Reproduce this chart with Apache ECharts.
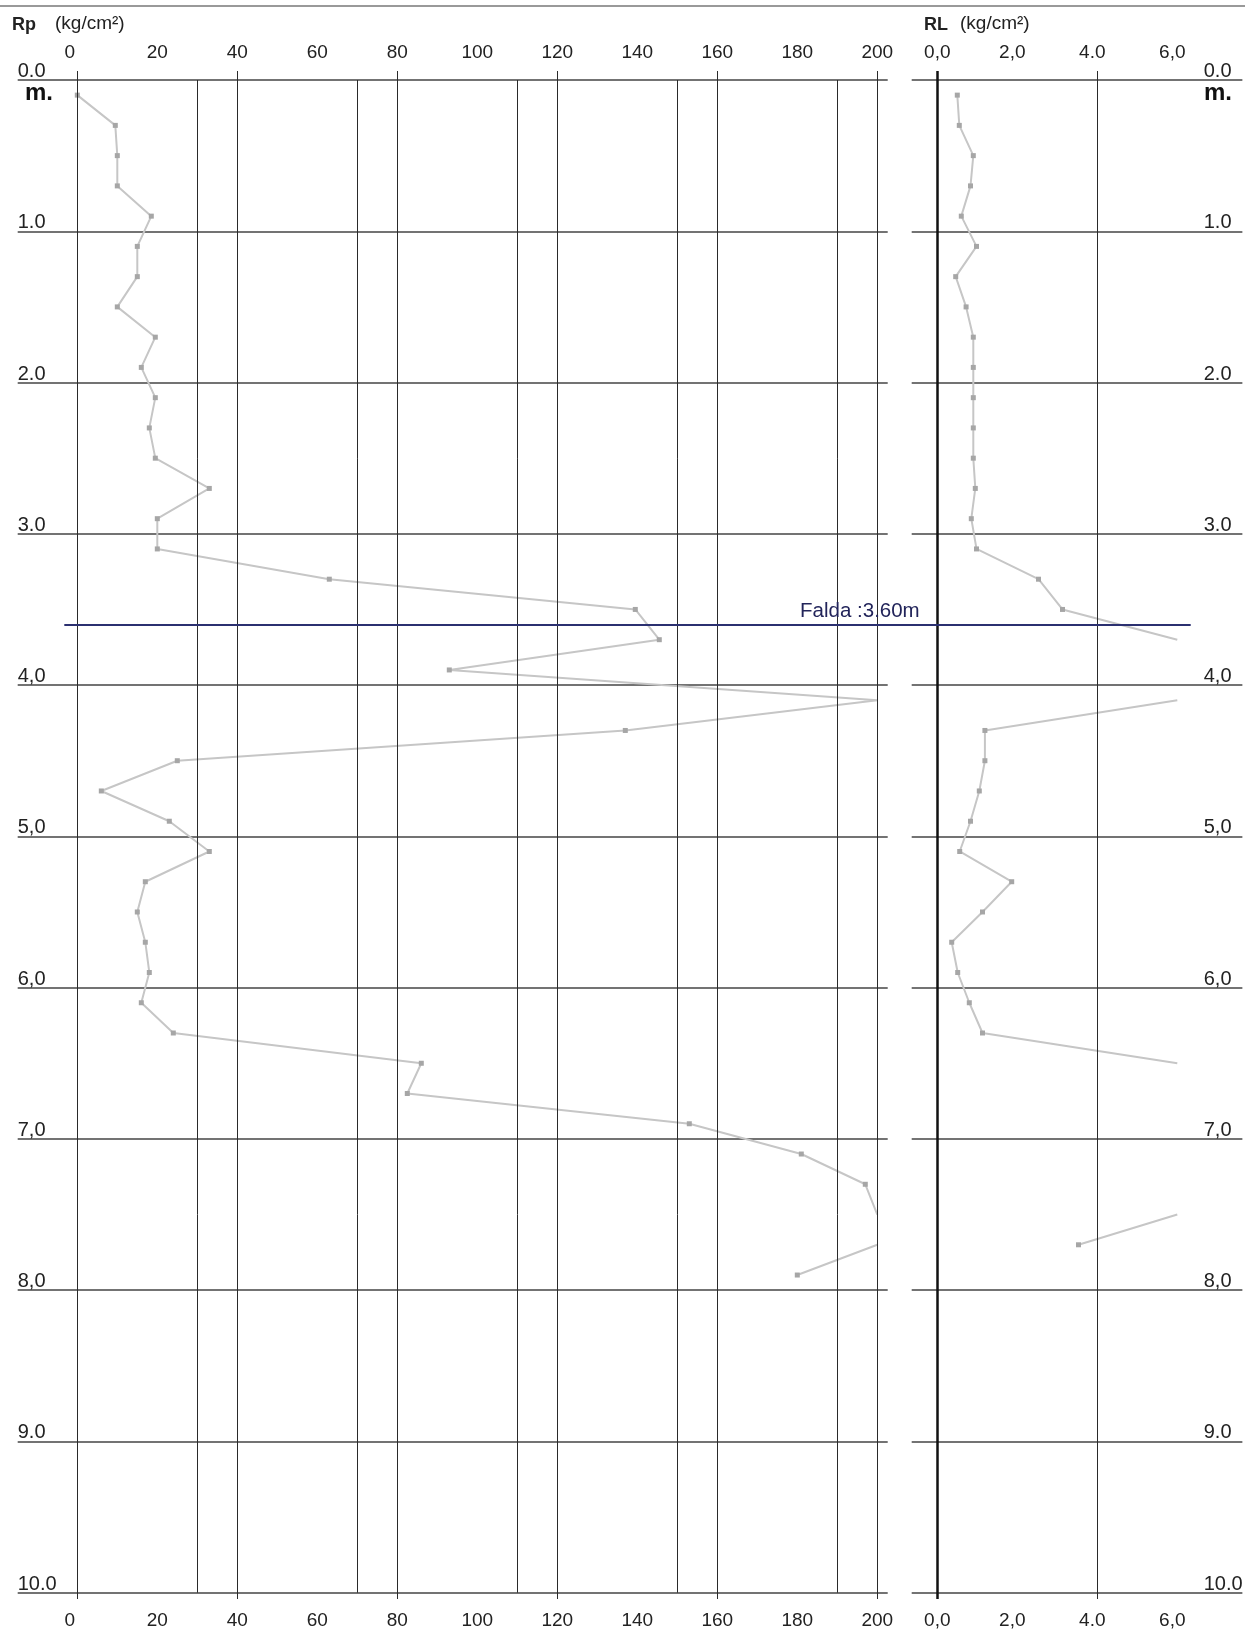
<!DOCTYPE html>
<html>
<head>
<meta charset="utf-8">
<script src="https://cdn.jsdelivr.net/npm/echarts@6/dist/echarts.min.js"></script>
<style>html,body{margin:0;padding:0;background:#fff}#c{width:1245px;height:1632px}</style>
</head>
<body>
<div id="c"></div>
<script>
// ---- data ----
const depths = [0.1,0.3,0.5,0.7,0.9,1.1,1.3,1.5,1.7,1.9,2.1,2.3,2.5,2.7,2.9,3.1,3.3,3.5,3.7,3.9,
                4.1,4.3,4.5,4.7,4.9,5.1,5.3,5.5,5.7,5.9,6.1,6.3,6.5,6.7,6.9,7.1,7.3,7.5,7.7,7.9];
const rpValues = [0,9.5,10,10,18.5,15,15,10,19.5,16,19.5,18,19.5,33,20,20,63,139.5,145.5,93,
                  200,137,25,6,23,33,17,15,17,18,16,24,86,82.5,153,181,197,200,200,180];
const rlValues = [0.5,0.55,0.9,0.83,0.6,0.98,0.46,0.72,0.9,0.9,0.9,0.9,0.9,0.95,0.85,0.98,2.53,3.13,6,6,
                  6,1.19,1.19,1.05,0.83,0.56,1.86,1.13,0.36,0.51,0.8,1.13,6,6,6,6,6,6,3.53,null];
const depthLabels = ['0.0','1.0','2.0','3.0','4,0','5,0','6,0','7,0','8,0','9.0','10.0'];
const rlTickLabels = ['0,0','2,0','4.0','6,0'];
const rpMajorLines = [0,40,80,120,160,200];
const rpMinorLines = [30,70,110,150,190];
const rlLines = [0,4];
const faldaDepth = 3.6;
const faldaText = 'Falda :3.60m';
const RP_MAX = 200, RL_MAX = 6;

// ---- helpers ----
const FONT = '"Liberation Sans", Arial, sans-serif';
function buildLine(values, max) {
  const out = [];
  for (let i = 0; i < depths.length; i++) {
    const v = values[i];
    if (v == null) { out.push(['-', '-']); continue; }
    const prev = i > 0 ? values[i - 1] : null;
    if (v >= max && prev != null && prev >= max) out.push(['-', '-']);
    if (v >= max) out.push({ value: [max, depths[i]], symbol: 'none' });
    else out.push([v, depths[i]]);
  }
  return out;
}
const depthAxis = (gi, extra) => Object.assign({ gridIndex: gi, type: 'value', inverse: true, min: 0, max: 10, interval: 1 }, extra);
const depthLabelCfg = (margin) => ({
  inside: true, margin: margin, fontSize: 20, color: '#222', fontFamily: FONT,
  align: 'left', verticalAlign: 'bottom', lineHeight: 17,
  formatter: v => depthLabels[Math.round(v)]
});
const hidden = (gi, min, max) => ({ gridIndex: gi, type: 'value', min: min, max: max, show: false });
const tickLabel = (margin, fmt, pad) => ({
  margin: margin, fontSize: 19, color: '#222', fontFamily: FONT, formatter: fmt,
  rich: { a: { padding: [0, pad, 0, 0], fontSize: 19, color: '#222', fontFamily: FONT } }
});
const rpFmt = v => v === 0 ? '{a|0}' : String(v);
const rlFmt = v => { const s = rlTickLabels[Math.round(v / 2)]; return v === 0 ? s : '{a|' + s + '}'; };
const vLines = (vals, color, width) => ({
  silent: true, animation: false, symbol: ['none', 'none'], label: { show: false },
  lineStyle: { color: color, width: width, type: 'solid' },
  data: vals.map(v => ({ xAxis: v }))
});

const TOP = 80, H = 1512.7, TTOP = 71, TH = 1528;

const option = {
  animation: false,
  backgroundColor: '#fff',
  grid: [
    { left: 17.7, top: TOP, width: 870, height: H },      // 0 left horizontal lines
    { left: 911.7, top: TOP, width: 331.3, height: H },   // 1 right horizontal lines
    { left: 77.3, top: TTOP, width: 800, height: TH },    // 2 Rp major (tall)
    { left: 77.3, top: TOP, width: 800, height: H },      // 3 Rp data
    { left: 937.3, top: TTOP, width: 240, height: TH },   // 4 RL lines (tall)
    { left: 937.3, top: TOP, width: 240, height: H },     // 5 RL data
    { left: 64.3, top: TOP, width: 1126.4, height: H }    // 6 falda
  ],
  xAxis: [
    hidden(0, 0, 1),                 // 0
    hidden(1, 0, 1),                 // 1
    hidden(2, 0, RP_MAX),            // 2
    { gridIndex: 3, type: 'value', position: 'top', min: 0, max: RP_MAX, interval: 20,   // 3
      axisLine: { show: false }, axisTick: { show: false }, splitLine: { show: false },
      axisLabel: tickLabel(18, rpFmt, 15) },
    { gridIndex: 3, type: 'value', position: 'bottom', min: 0, max: RP_MAX, interval: 20, // 4
      axisLine: { show: false }, axisTick: { show: false }, splitLine: { show: false },
      axisLabel: tickLabel(19, rpFmt, 15) },
    hidden(4, 0, RL_MAX),            // 5
    { gridIndex: 5, type: 'value', position: 'top', min: 0, max: RL_MAX, interval: 2,    // 6
      axisLine: { show: false }, axisTick: { show: false }, splitLine: { show: false },
      axisLabel: tickLabel(18, rlFmt, 10) },
    { gridIndex: 5, type: 'value', position: 'bottom', min: 0, max: RL_MAX, interval: 2, // 7
      axisLine: { show: false }, axisTick: { show: false }, splitLine: { show: false },
      axisLabel: tickLabel(19, rlFmt, 10) },
    hidden(6, 0, 1)                  // 8
  ],
  yAxis: [
    depthAxis(0, { axisLine: { show: false }, axisTick: { show: false },
      splitLine: { show: true, lineStyle: { color: '#444', width: 1.5 } }, axisLabel: depthLabelCfg(0) }),
    depthAxis(1, { axisLine: { show: false }, axisTick: { show: false },
      splitLine: { show: true, lineStyle: { color: '#444', width: 1.5 } }, axisLabel: depthLabelCfg(292) }),
    depthAxis(2, { show: false }),
    depthAxis(3, { show: false }),
    depthAxis(4, { show: false }),
    depthAxis(5, { show: false }),
    depthAxis(6, { show: false })
  ],
  series: [
    { type: 'line', xAxisIndex: 2, yAxisIndex: 2, data: [], showSymbol: false, z: 2,
      markLine: vLines(rpMajorLines, '#2a2a2a', 1) },
    { type: 'line', xAxisIndex: 5, yAxisIndex: 4, data: [], showSymbol: false, z: 2,
      markLine: { silent: true, animation: false, symbol: ['none', 'none'], label: { show: false },
        lineStyle: { color: '#2a2a2a', width: 1, type: 'solid' },
        data: rlLines.map(v => v === 0 ? { xAxis: v, lineStyle: { width: 2.5, color: '#111' } } : { xAxis: v }) } },
    { name: 'Rp', type: 'line', xAxisIndex: 3, yAxisIndex: 3, z: 3,
      data: buildLine(rpValues, RP_MAX), connectNulls: false,
      symbol: 'rect', symbolSize: 5, itemStyle: { color: '#a6a6a6' },
      lineStyle: { color: '#c6c6c6', width: 2 },
      markLine: vLines(rpMinorLines, '#2a2a2a', 1) },
    { name: 'RL', type: 'line', xAxisIndex: 6, yAxisIndex: 5, z: 3,
      data: buildLine(rlValues, RL_MAX), connectNulls: false,
      symbol: 'rect', symbolSize: 5, itemStyle: { color: '#a6a6a6' },
      lineStyle: { color: '#c6c6c6', width: 2 } },
    { type: 'line', xAxisIndex: 8, yAxisIndex: 6, data: [], showSymbol: false, z: 5,
      markLine: { silent: true, animation: false, symbol: ['none', 'none'],
        lineStyle: { color: '#2b3070', width: 2, type: 'solid' },
        label: { show: true, position: 'insideEndTop', distance: [271, 3], formatter: faldaText,
          color: '#22245a', fontSize: 20.5, fontFamily: FONT },
        data: [{ yAxis: faldaDepth }] } }
  ],
  graphic: [
    { type: 'line', shape: { x1: 0, y1: 6, x2: 1245, y2: 6 }, style: { stroke: '#777', lineWidth: 1.5 } },
    { type: 'text', x: 12, y: 25, style: { text: 'Rp', font: 'bold 18px ' + FONT, fill: '#222', verticalAlign: 'middle' } },
    { type: 'text', x: 55, y: 24, style: { text: '(kg/cm²)', font: '19px ' + FONT, fill: '#222', verticalAlign: 'middle' } },
    { type: 'text', x: 924, y: 25, style: { text: 'RL', font: 'bold 18px ' + FONT, fill: '#222', verticalAlign: 'middle' } },
    { type: 'text', x: 960, y: 24, style: { text: '(kg/cm²)', font: '19px ' + FONT, fill: '#222', verticalAlign: 'middle' } },
    { type: 'text', x: 25, y: 93, style: { text: 'm.', font: 'bold 24px ' + FONT, fill: '#111', verticalAlign: 'middle' } },
    { type: 'text', x: 1204, y: 93, style: { text: 'm.', font: 'bold 24px ' + FONT, fill: '#111', verticalAlign: 'middle' } }
  ]
};
const chart = echarts.init(document.getElementById('c'));
chart.setOption(option);
</script>
</body>
</html>
